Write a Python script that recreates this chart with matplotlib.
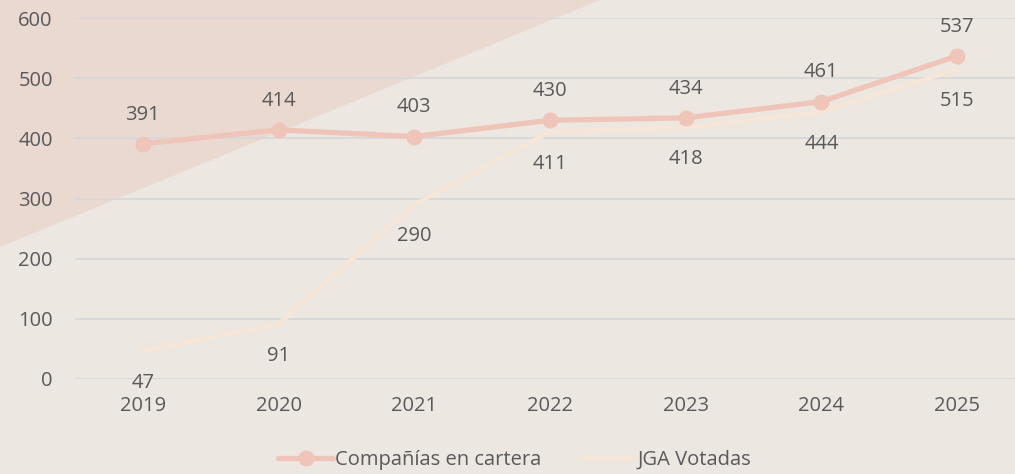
import matplotlib.pyplot as plt
from matplotlib.patches import Polygon

# data
years = ['2019', '2020', '2021', '2022', '2023', '2024', '2025']
companias = [391, 414, 403, 430, 434, 461, 537]
jga_votadas = [47, 91, 290, 411, 418, 444, 515]
y_ticks = [0, 100, 200, 300, 400, 500, 600]

bg_color = '#ECE7E1'
pink_bg = '#EAD9D1'
pink_line = '#F0C5B9'
cream_line = '#F6E6D8'
text_color = '#595959'
grid_color = '#D8D8DA'
fs = 14.5

plt.rcParams['font.family'] = ['Open Sans', 'DejaVu Sans']

fig = plt.figure(figsize=(10.15, 4.74), dpi=100)
fig.patch.set_facecolor(bg_color)

# diagonal pink band in the upper-left corner
W, H = 1015, 474
tri = Polygon([(0, 1), (600 / W, 1), (0, 1 - 247 / H)], closed=True,
              transform=fig.transFigure, facecolor=pink_bg, edgecolor='none', zorder=0)
fig.patches.append(tri)

ax = fig.add_axes([75 / W, 95 / H, 950 / W, 361 / H])
ax.set_zorder(2)
ax.set_facecolor('none')

x = list(range(len(years)))
ax.plot(x, jga_votadas, color=cream_line, lw=3.2, solid_capstyle='round', zorder=3,
        label='JGA Votadas')
ax.plot(x, companias, color=pink_line, lw=3.8, marker='o', ms=10.5,
        solid_capstyle='round', zorder=4, label='Compañías en cartera')

for xi, v in zip(x, companias):
    ax.annotate(str(v), (xi, v), xytext=(0, 21), textcoords='offset points',
                ha='center', va='center', fontsize=fs, color=text_color)
for xi, v in zip(x, jga_votadas):
    ax.annotate(str(v), (xi, v), xytext=(0, -23), textcoords='offset points',
                ha='center', va='center', fontsize=fs, color=text_color)

ax.set_xlim(-0.5, 6.5)
ax.set_ylim(0, 600)
ax.set_yticks(y_ticks)
ax.set_xticks(x)
ax.set_xticklabels(years)
ax.tick_params(axis='both', length=0, labelsize=fs, labelcolor=text_color)
ax.tick_params(axis='y', pad=16)
ax.tick_params(axis='x', pad=12)
ax.grid(axis='y', color=grid_color, lw=1.3)
ax.set_axisbelow(True)
for s in ax.spines.values():
    s.set_visible(False)

handles, labels = ax.get_legend_handles_labels()
leg = fig.legend(handles[::-1], labels[::-1], loc='center', bbox_to_anchor=(515 / W, 1 - 460 / H),
                 ncol=2, frameon=False, fontsize=fs, handlelength=2.7, handletextpad=0.1,
                 columnspacing=2.0, labelcolor=text_color)

fig.savefig('out.png', dpi=100, facecolor=bg_color)
